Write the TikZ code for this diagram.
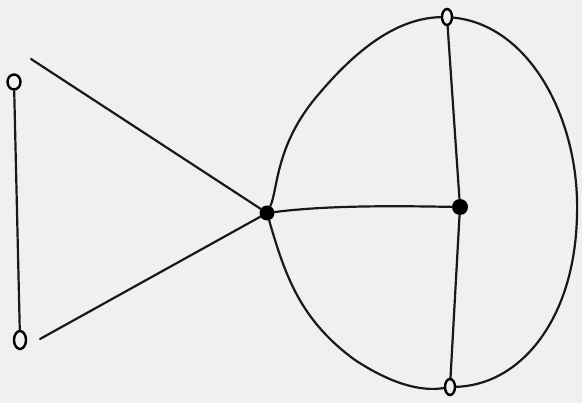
\documentclass[tikz,border=0pt]{standalone}
\usetikzlibrary{shapes.geometric}
\begin{document}
\begin{tikzpicture}[x=1pt,y=-1pt,
  edge/.style={line width=2.2pt,black!90,line cap=round},
  openv/.style={draw=black,line width=2.4pt,ellipse,inner sep=0pt},
  fillv/.style={circle,fill=black,minimum size=15pt,inner sep=0pt}]
\fill[black!6] (0,0) rectangle (582,403);
\useasboundingbox (0,0) rectangle (582,403);
\node[openv,minimum width=13pt,minimum height=15pt] (tl) at (14,82) {};
\node[openv,minimum width=12pt,minimum height=18pt] (bl) at (20,340) {};
\node[fillv] (c) at (267,213) {};
\node[openv,minimum width=10pt,minimum height=16pt] (tr) at (447,17) {};
\node[fillv,minimum size=16pt] (mr) at (460,207) {};
\node[openv,minimum width=10pt,minimum height=16pt] (br) at (450,387) {};
\coordinate (a1) at (31,59);
\coordinate (a2) at (40,339);
\draw[edge] (tl) -- (bl);
\draw[edge] (a1) -- (c);
\draw[edge] (a2) -- (c);
\draw[edge] (c) .. controls (278,190) and (275,145) .. (318,95) .. controls (360,45) and (400,18) .. (tr);
\draw[edge] (c) .. controls (285,275) and (300,320) .. (355,360) .. controls (390,383) and (420,392) .. (br);
\draw[edge] (c) .. controls (330,205) and (400,206) .. (mr);
\draw[edge] (tr) -- (mr);
\draw[edge] (mr) -- (br);
\draw[edge] (tr) .. controls (530,25) and (580,120) .. (577,215) .. controls (575,320) and (520,385) .. (br);
\end{tikzpicture}
\end{document}
